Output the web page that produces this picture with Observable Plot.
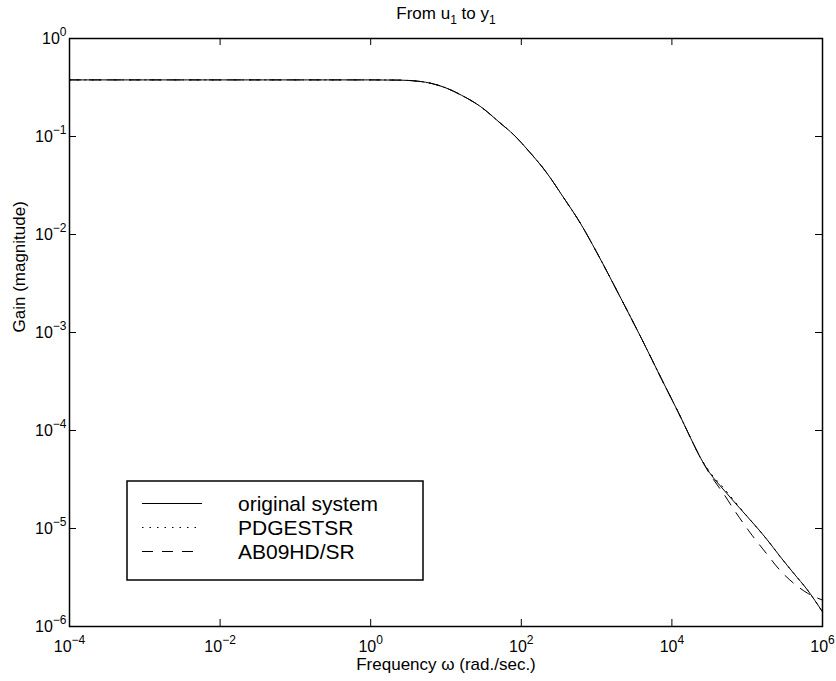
<!DOCTYPE html>
<html>
<head>
<meta charset="utf-8">
<script src="https://cdn.jsdelivr.net/npm/d3@7"></script>
<script src="https://cdn.jsdelivr.net/npm/@observablehq/plot@0.6"></script>
<style>
  body { margin: 0; background: #fff; }
  svg { font-family: "Liberation Sans", Arial, Helvetica, sans-serif; }
</style>
</head>
<body>
<div id="chart"></div>
<script>
// ---- data ----
const freq = [1e-4, 1e-2, 1, 2.5, 3.2, 6.3, 10, 16, 29, 52, 80, 126, 220, 355, 610, 1000, 2000, 4000, 7400, 13000, 17800, 24000, 31600, 49000, 71000, 110000, 178000, 275000, 417000, 631000, 1e6];
const gainOriginal = [0.378, 0.378, 0.378, 0.376, 0.373, 0.349, 0.313, 0.264, 0.201, 0.138, 0.1035, 0.0708, 0.0421, 0.0245, 0.0130, 0.00661, 0.00240, 0.000851, 0.000327, 0.000138, 8.32e-5, 5.25e-5, 3.72e-5, 2.47e-5, 1.78e-5, 1.22e-5, 7.94e-6, 5.15e-6, 3.47e-6, 2.36e-6, 1.41e-6];
const gainPDGESTSR = [0.378, 0.378, 0.378, 0.376, 0.373, 0.349, 0.313, 0.264, 0.201, 0.138, 0.1035, 0.0708, 0.0421, 0.0245, 0.0130, 0.00661, 0.00240, 0.000851, 0.000327, 0.000138, 8.32e-5, 5.25e-5, 3.80e-5, 2.57e-5, 1.82e-5, 1.22e-5, 7.94e-6, 5.15e-6, 3.47e-6, 2.36e-6, 1.41e-6];
const gainAB09HD = [0.378, 0.378, 0.378, 0.376, 0.373, 0.349, 0.313, 0.264, 0.201, 0.138, 0.1035, 0.0708, 0.0421, 0.0245, 0.0130, 0.00661, 0.00240, 0.000851, 0.000327, 0.000138, 8.32e-5, 5.25e-5, 3.63e-5, 2.24e-5, 1.45e-5, 9.02e-6, 5.62e-6, 3.72e-6, 2.75e-6, 2.19e-6, 1.86e-6];
const seriesNames = ["original system", "PDGESTSR", "AB09HD/SR"];
const xTickExponents = [-4, -2, 0, 2, 4, 6];
const yTickExponents = [-6, -5, -4, -3, -2, -1, 0];
const titleParts = ["From u", "1", " to y", "1"];
const xLabel = "Frequency \u03C9 (rad./sec.)";
const yLabel = "Gain (magnitude)";

// ---- layout ----
const W = 836, H = 681;
const mL = 69, mR = 14, mT = 38, mB = 55;
const fw = W - mL - mR, fh = H - mT - mB;
const tickLen = 7;

const xTicks = xTickExponents.map(e => 10 ** e);
const yTicks = yTickExponents.map(e => 10 ** e);
const rows = (g) => freq.map((f, i) => ({f, g: g[i]}));
const fmt = d => "\u00A7" + Math.round(Math.log10(d));

const chart = Plot.plot({
  width: W, height: H,
  marginLeft: mL, marginRight: mR, marginTop: mT, marginBottom: mB,
  style: {fontSize: "16px", color: "black", background: "white", fontFamily: "'Liberation Sans', Arial, Helvetica, sans-serif"},
  x: {type: "log", domain: [1e-4, 1e6]},
  y: {type: "log", domain: [1e-6, 1]},
  marks: [
    Plot.axisX({ticks: xTicks, tickSize: 0, tickPadding: 14, tickFormat: fmt, label: null, fill: "black"}),
    Plot.axisY({ticks: yTicks, tickSize: 0, tickPadding: 3, tickFormat: fmt, label: null, fill: "black"}),
    Plot.tickX(xTicks, {x: d => d, insetTop: fh - tickLen, stroke: "black"}),
    Plot.tickX(xTicks, {x: d => d, insetBottom: fh - tickLen, stroke: "black"}),
    Plot.tickY(yTicks, {y: d => d, insetRight: fw - tickLen, stroke: "black"}),
    Plot.tickY(yTicks, {y: d => d, insetLeft: fw - tickLen, stroke: "black"}),
    Plot.line(rows(gainOriginal), {x: "f", y: "g", curve: "monotone-x", stroke: "black", strokeWidth: 1}),
    Plot.line(rows(gainPDGESTSR), {x: "f", y: "g", curve: "monotone-x", stroke: "black", strokeWidth: 1, strokeDasharray: "1.5,6"}),
    Plot.line(rows(gainAB09HD), {x: "f", y: "g", curve: "monotone-x", stroke: "black", strokeWidth: 1, strokeDasharray: "11,9"}),
    Plot.frame({stroke: "black", strokeWidth: 1.5}),
    Plot.text(["\u00A7title"], {text: d => d, frameAnchor: "top", dy: -20, lineAnchor: "bottom", fontSize: 17, fill: "black"}),
    Plot.text([xLabel], {text: d => d, frameAnchor: "bottom", dy: 43, lineAnchor: "bottom", fontSize: 17, fill: "black"}),
    Plot.text([yLabel], {text: d => d, frameAnchor: "left", dx: -50, rotate: -90, fontSize: 17, fill: "black"})
  ]
});

// ---- superscripted tick labels / subscripted title ----
const NS = "http://www.w3.org/2000/svg";
chart.querySelectorAll("text").forEach(t => {
  const s = t.textContent;
  if (!s.startsWith("\u00A7")) return;
  const v = s.slice(1);
  t.textContent = "";
  if (v === "title") {
    titleParts.forEach((p, i) => {
      const ts = document.createElementNS(NS, "tspan");
      ts.textContent = p;
      if (i % 2 === 1) { ts.setAttribute("dy", "5"); ts.setAttribute("font-size", "12"); }
      else if (i > 0) { ts.setAttribute("dy", "-5"); }
      t.appendChild(ts);
    });
  } else {
    const a = document.createElementNS(NS, "tspan");
    a.textContent = "10";
    const b = document.createElementNS(NS, "tspan");
    b.textContent = (+v < 0 ? "\u2212" + (-v) : v);
    b.setAttribute("dy", "-8");
    b.setAttribute("font-size", "12");
    t.appendChild(a); t.appendChild(b);
  }
});

// ---- legend box ----
const svg = d3.select(chart);
const lg = svg.append("g").attr("font-size", 21).attr("fill", "black").attr("text-anchor", "start");
lg.append("rect").attr("x", 127).attr("y", 481).attr("width", 296).attr("height", 99)
  .attr("fill", "white").attr("stroke", "black").attr("stroke-width", 1.5);
const dashes = [null, "1.5,6", "11,9"];
seriesNames.forEach((name, i) => {
  const base = 511 + i * 24;
  lg.append("line").attr("x1", 142).attr("x2", 202).attr("y1", base - 7.5).attr("y2", base - 7.5)
    .attr("stroke", "black").attr("stroke-width", 1).attr("stroke-dasharray", dashes[i]);
  lg.append("text").attr("x", 238).attr("y", base).attr("text-anchor", "start").text(name);
});

document.getElementById("chart").appendChild(chart);
</script>
</body>
</html>
